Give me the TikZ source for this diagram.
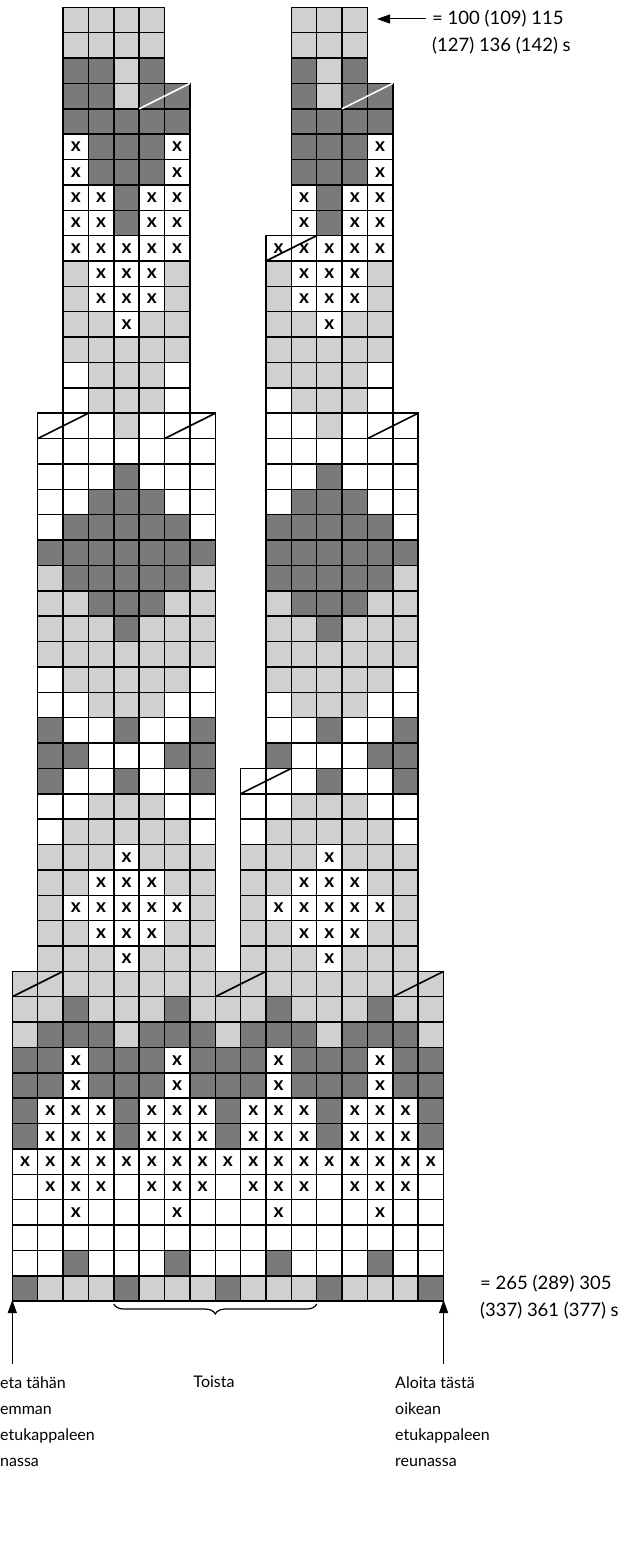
\documentclass[tikz,border=0pt]{standalone}
\usepackage{fontspec}
\setmainfont{Lato}
\usetikzlibrary{decorations.pathreplacing,arrows.meta}
\definecolor{dk}{RGB}{122,122,122}
\definecolor{lt}{RGB}{208,208,210}
\begin{document}
\begin{tikzpicture}[x=1pt,y=-1pt,
  cL/.style={fill=lt}, cD/.style={fill=dk}, cW/.style={fill=white}, cX/.style={fill=white},
  gridcell/.style={draw=black,line width=1.5pt},
  xmark/.style={font=\fontsize{19}{19}\selectfont\bfseries, inner sep=0pt},
  decb/.style={line width=1.6pt,black},
  decw/.style={line width=1.6pt,white},
  lab/.style={font=\fontsize{16}{26}\selectfont, align=left, inner sep=0pt},
  numlab/.style={font=\fontsize{18.5}{27}\selectfont, align=left, inner sep=0pt},
  arr/.style={line width=1pt,-{Triangle[length=13pt,width=9pt]}}]
\useasboundingbox (0,0) rectangle (629,1555);
\clip (0,0) rectangle (629,1555);
\def\cs{25.37}\def\xo{12.3}\def\yo{7.3}
\foreach \k/\s/\cells in {
 0/2/{L,L,L,L}, 1/2/{L,L,L,L}, 2/2/{D,D,L,D}, 3/2/{D,D,L,D,D}, 4/2/{D,D,D,D,D},
 5/2/{X,D,D,D,X}, 6/2/{X,D,D,D,X}, 7/2/{X,X,D,X,X}, 8/2/{X,X,D,X,X}, 9/2/{X,X,X,X,X},
 10/2/{L,X,X,X,L}, 11/2/{L,X,X,X,L}, 12/2/{L,L,X,L,L}, 13/2/{L,L,L,L,L}, 14/2/{W,L,L,L,W}, 15/2/{W,L,L,L,W},
 0/11/{L,L,L}, 1/11/{L,L,L}, 2/11/{D,L,D}, 3/11/{D,L,D,D}, 4/11/{D,D,D,D},
 5/11/{D,D,D,X}, 6/11/{D,D,D,X}, 7/11/{X,D,X,X}, 8/11/{X,D,X,X}, 9/10/{X,X,X,X,X},
 10/10/{L,X,X,X,L}, 11/10/{L,X,X,X,L}, 12/10/{L,L,X,L,L}, 13/10/{L,L,L,L,L}, 14/10/{L,L,L,L,W}, 15/10/{W,L,L,L,W},
 16/1/{W,W,W,L,W,W,W}, 17/1/{W,W,W,W,W,W,W}, 18/1/{W,W,W,D,W,W,W}, 19/1/{W,W,D,D,D,W,W},
 20/1/{W,D,D,D,D,D,W}, 21/1/{D,D,D,D,D,D,D}, 22/1/{L,D,D,D,D,D,L}, 23/1/{L,L,D,D,D,L,L},
 24/1/{L,L,L,D,L,L,L}, 25/1/{L,L,L,L,L,L,L}, 26/1/{W,L,L,L,L,L,W}, 27/1/{W,W,L,L,L,W,W},
 28/1/{D,W,W,D,W,W,D}, 29/1/{D,D,W,W,W,D,D}, 30/1/{D,W,W,D,W,W,D}, 31/1/{W,W,L,L,L,W,W},
 32/1/{W,L,L,L,L,L,W}, 33/1/{L,L,L,X,L,L,L}, 34/1/{L,L,X,X,X,L,L}, 35/1/{L,X,X,X,X,X,L},
 36/1/{L,L,X,X,X,L,L}, 37/1/{L,L,L,X,L,L,L},
 16/10/{W,W,L,W,W,W}, 17/10/{W,W,W,W,W,W}, 18/10/{W,W,D,W,W,W}, 19/10/{W,D,D,D,W,W},
 20/10/{D,D,D,D,D,W}, 21/10/{D,D,D,D,D,D}, 22/10/{D,D,D,D,D,L}, 23/10/{L,D,D,D,L,L},
 24/10/{L,L,D,L,L,L}, 25/10/{L,L,L,L,L,L}, 26/10/{L,L,L,L,L,W}, 27/10/{W,L,L,L,W,W},
 28/10/{W,W,D,W,W,D}, 29/10/{D,W,W,W,D,D}, 30/9/{W,W,W,D,W,W,D}, 31/9/{W,W,L,L,L,W,W},
 32/9/{W,L,L,L,L,L,W}, 33/9/{L,L,L,X,L,L,L}, 34/9/{L,L,X,X,X,L,L}, 35/9/{L,X,X,X,X,X,L},
 36/9/{L,L,X,X,X,L,L}, 37/9/{L,L,L,X,L,L,L},
 38/0/{L,L,L,L,L,L,L,L,L,L,L,L,L,L,L,L,L},
 39/0/{L,L,D,L,L,L,D,L,L,L,D,L,L,L,D,L,L},
 40/0/{L,D,D,D,L,D,D,D,L,D,D,D,L,D,D,D,L},
 41/0/{D,D,X,D,D,D,X,D,D,D,X,D,D,D,X,D,D},
 42/0/{D,D,X,D,D,D,X,D,D,D,X,D,D,D,X,D,D},
 43/0/{D,X,X,X,D,X,X,X,D,X,X,X,D,X,X,X,D},
 44/0/{D,X,X,X,D,X,X,X,D,X,X,X,D,X,X,X,D},
 45/0/{X,X,X,X,X,X,X,X,X,X,X,X,X,X,X,X,X},
 46/0/{W,X,X,X,W,X,X,X,W,X,X,X,W,X,X,X,W},
 47/0/{W,W,X,W,W,W,X,W,W,W,X,W,W,W,X,W,W},
 48/0/{W,W,W,W,W,W,W,W,W,W,W,W,W,W,W,W,W},
 49/0/{W,W,D,W,W,W,D,W,W,W,D,W,W,W,D,W,W},
 50/0/{D,L,L,L,D,L,L,L,D,L,L,L,D,L,L,L,D}}{
  \foreach \c [count=\i from 0] in \cells {
    \pgfmathsetmacro\xa{\xo+\cs*(\s+\i)}
    \pgfmathsetmacro\ya{\yo+\cs*\k}
    \path[gridcell,c\c] (\xa,\ya) rectangle ++(\cs,\cs);
    \if\c X \node[xmark] (x-\k-\s-\i) at (\xa+\cs/2,\ya+\cs/2) {x};\fi
  }
}
\foreach \k/\j/\st in {3/5/decw, 3/13/decw, 9/10/decb, 16/1/decb, 16/6/decb, 16/14/decb,
  30/9/decb, 38/0/decb, 38/8/decb, 38/15/decb}
  \draw[\st] (\xo+\cs*\j, \yo+\cs*\k+\cs) -- ++(2*\cs,-\cs);
% labels
\node[numlab, anchor=north west] (toplab) at (432,10) {= 100 (109) 115\\(127) 136 (142) s};
\coordinate (ttail) at (426,19);
\coordinate (ttip) at (377,19);
\draw[arr] (ttail) -- (ttip);
\node[numlab, anchor=north west] (botlab) at (480,1275) {= 265 (289) 305\\(337) 361 (377) s};
\coordinate (bl) at (\xo+4*\cs,1304);
\coordinate (br) at (\xo+12*\cs,1304);
\draw[decorate,decoration={brace,mirror,amplitude=10pt},line width=1.2pt] (bl) -- (br);
\node[lab, anchor=north] (toista) at (214,1376) {Toista};
\coordinate (lat) at (\xo,1300);
\coordinate (lal) at (\xo,1364);
\draw[arr] (lal) -- (lat);
\coordinate (rat) at (\xo+17*\cs,1300);
\coordinate (ral) at (\xo+17*\cs,1364);
\draw[arr] (ral) -- (rat);
\node[lab, anchor=north west] (leftlab) at (0,1376) {eta tähän\\emman\\etukappaleen\\nassa};
\node[lab, anchor=north west] (rightlab) at (395,1376) {Aloita tästä\\oikean\\etukappaleen\\reunassa};
\end{tikzpicture}
\end{document}
